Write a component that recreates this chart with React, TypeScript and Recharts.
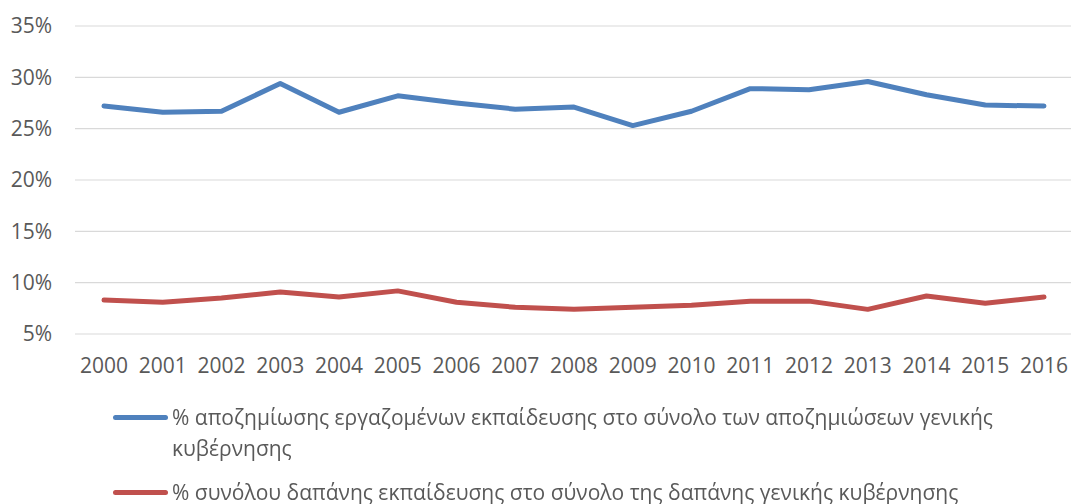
import { LineChart, Line, XAxis, YAxis, CartesianGrid, Legend } from 'recharts';

const YEARS = ['2000', '2001', '2002', '2003', '2004', '2005', '2006', '2007', '2008', '2009', '2010', '2011', '2012', '2013', '2014', '2015', '2016'];

const COMPENSATION = [27.2, 26.6, 26.7, 29.4, 26.6, 28.2, 27.5, 26.9, 27.1, 25.3, 26.7, 28.9, 28.8, 29.6, 28.3, 27.3, 27.2];
const EXPENDITURE = [8.3, 8.1, 8.5, 9.1, 8.6, 9.2, 8.1, 7.6, 7.4, 7.6, 7.8, 8.2, 8.2, 7.4, 8.7, 8.0, 8.6];

const Y_TICKS = [5, 10, 15, 20, 25, 30, 35];

const SERIES_NAMES = [
  '% αποζημίωσης εργαζομένων εκπαίδευσης στο σύνολο των αποζημιώσεων γενικής κυβέρνησης',
  '% συνόλου δαπάνης εκπαίδευσης στο σύνολο της δαπάνης γενικής κυβέρνησης',
];

const COLORS = ['#4f81bd', '#c0504d'];
const FONT = '"Open Sans", "DejaVu Sans", sans-serif';
const FONT_SIZE = 21;
const TEXT_COLOR = '#595959';

const data = YEARS.map((year, i) => ({
  year,
  compensation: COMPENSATION[i],
  expenditure: EXPENDITURE[i],
}));

function renderLegend(props: any) {
  const payload = props.payload || [];
  return (
    <div style={{ fontFamily: FONT, fontSize: FONT_SIZE, color: TEXT_COLOR }}>
      {payload.map((entry: any, index: number) => (
        <div
          key={`legend-${index}`}
          style={{ display: 'flex', alignItems: 'flex-start', marginBottom: 13, lineHeight: '31px' }}
        >
          <div style={{ width: 172, flexShrink: 0, position: 'relative', height: 31 }}>
            <div
              style={{
                position: 'absolute',
                left: 113,
                top: 13,
                width: 55,
                height: 5,
                borderRadius: 3,
                background: entry.color,
              }}
            />
          </div>
          <span style={{ width: 845 }}>{entry.value}</span>
        </div>
      ))}
    </div>
  );
}

export default function App() {
  return (
    <div style={{ position: 'fixed', left: 0, top: 0, width: 1071, height: 504, background: '#fff' }}>
      <LineChart width={1071} height={504} data={data} margin={{ top: 26, right: 0, bottom: 120, left: 0 }}>
        <CartesianGrid vertical={false} stroke="#d9d9d9" strokeWidth={1.2} />
        <XAxis
          dataKey="year"
          axisLine={false}
          tickLine={false}
          tickMargin={18}
          height={50}
          padding={{ left: 29, right: 27 }}
          interval={0}
          tick={{ fill: TEXT_COLOR, fontSize: FONT_SIZE, fontFamily: FONT }}
        />
        <YAxis
          domain={[5, 35]}
          ticks={Y_TICKS}
          tickFormatter={(v: number) => `${v}%`}
          axisLine={false}
          tickLine={false}
          tickMargin={17}
          width={75}
          tick={{ fill: TEXT_COLOR, fontSize: FONT_SIZE, fontFamily: FONT }}
        />
        <Legend
          layout="vertical"
          align="center"
          verticalAlign="middle"
          wrapperStyle={{ left: 0, top: 402, width: 1071 }}
          content={renderLegend}
        />
        <Line
          type="linear"
          dataKey="compensation"
          name={SERIES_NAMES[0]}
          stroke={COLORS[0]}
          strokeWidth={5}
          strokeLinecap="round"
          strokeLinejoin="round"
          dot={false}
          isAnimationActive={false}
        />
        <Line
          type="linear"
          dataKey="expenditure"
          name={SERIES_NAMES[1]}
          stroke={COLORS[1]}
          strokeWidth={5}
          strokeLinecap="round"
          strokeLinejoin="round"
          dot={false}
          isAnimationActive={false}
        />
      </LineChart>
    </div>
  );
}
